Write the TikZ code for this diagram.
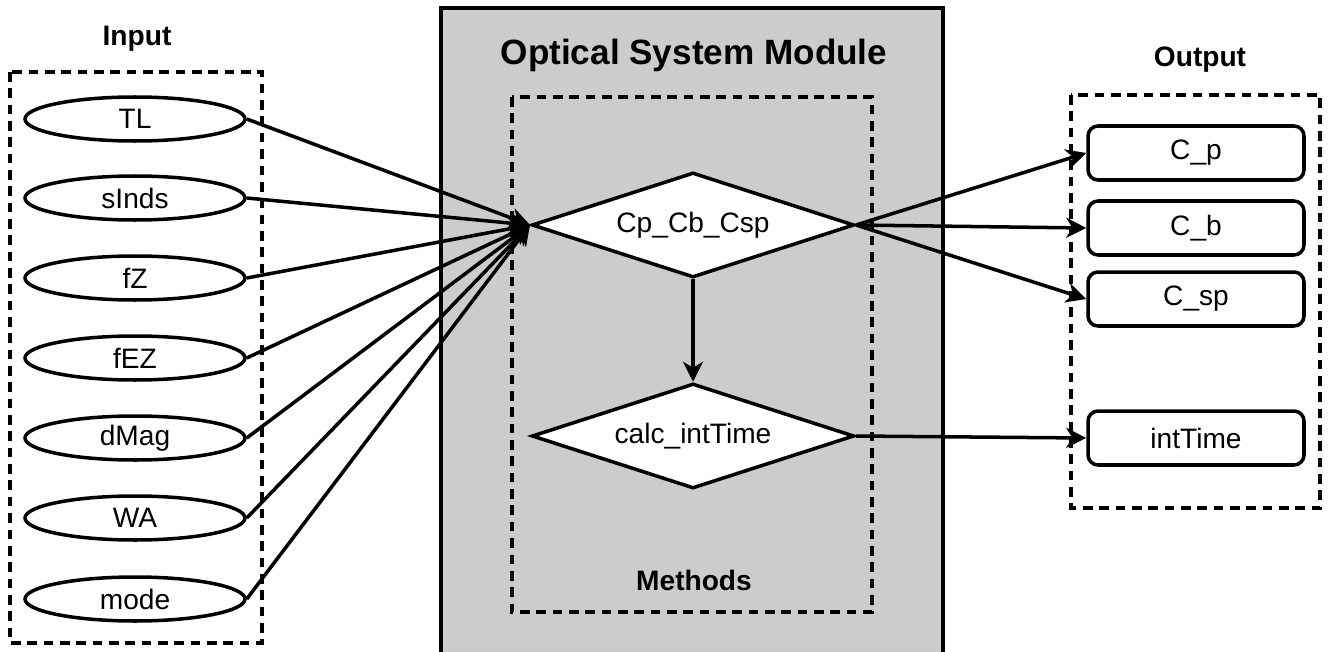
\documentclass[tikz,border=0pt]{standalone}
\usepackage{fontspec}
\setmainfont{Liberation Sans}
\usetikzlibrary{shapes.geometric,arrows.meta}

\begin{document}
\begin{tikzpicture}[x=0.02cm,y=-0.02cm,
  line width=2pt,
  dashbox/.style={dash pattern=on 5.5pt off 3.8pt},
  inbox/.style={ellipse,draw,minimum width=4.4cm,minimum height=0.88cm,inner sep=0pt,font=\fontsize{16}{18}\selectfont},
  method/.style={diamond,draw,fill=white,aspect=3.1,minimum width=6.45cm,minimum height=2.1cm,inner sep=0pt,font=\fontsize{16}{18}\selectfont},
  outbox/.style={rectangle,rounded corners=0.2cm,draw,minimum width=4.32cm,minimum height=1.08cm,inner sep=0pt,font=\fontsize{16}{18}\selectfont},
  heading/.style={font=\fontsize{16}{18}\selectfont\bfseries},
  conn/.style={-{Stealth[length=0.4cm,width=0.4cm,inset=0.12cm]}}]
\useasboundingbox (0,0) rectangle (1328,652);
% module
\draw[fill=black!20,line width=2.3pt] (441,8) rectangle (943,660);
\node (title) at (694,55) {\fontsize{20}{24}\selectfont\bfseries Optical System Module};
\draw[dashbox] (512,97) rectangle (872,612);
\node[heading] (methods) at (694,580) {Methods};
% input
\node[heading] (inlabel) at (137,39) {Input};
\draw[dashbox] (10,72) rectangle (262,643);
\node[inbox] (TL) at (135,119) {TL};
\node[inbox] (sInds) at (135,198) {sInds};
\node[inbox] (fZ) at (135,278) {fZ};
\node[inbox] (fEZ) at (135,358) {fEZ};
\node[inbox] (dMag) at (135,438) {dMag};
\node[inbox] (WA) at (135,518) {WA};
\node[inbox] (mode) at (135,599) {mode};
% output
\node[heading] (outlabel) at (1200,60) {Output};
\draw[dashbox] (1071,95) rectangle (1320,508);
\node[outbox] (Cp) at (1196,153) {C\_p};
\node[outbox] (Cb) at (1196,228) {C\_b};
\node[outbox] (Csp) at (1196,299) {C\_sp};
\node[outbox] (intTime) at (1196,438) {intTime};
% methods
\node[method] (CpCbCsp) at (693,225) {Cp\_Cb\_Csp};
\node[method] (calc) at (693,436) {calc\_intTime};
% connectors
\foreach \n in {TL,sInds,fZ,fEZ,dMag,WA,mode}
  \draw[conn] (\n.east) -- (CpCbCsp.west);
\draw[conn] (CpCbCsp.south) -- (calc.north);
\draw[conn] (CpCbCsp.east) -- (Cp.west);
\draw[conn] (CpCbCsp.east) -- (Cb.west);
\draw[conn] (CpCbCsp.east) -- (Csp.west);
\draw[conn] (calc.east) -- (intTime.west);
\end{tikzpicture}
\end{document}
